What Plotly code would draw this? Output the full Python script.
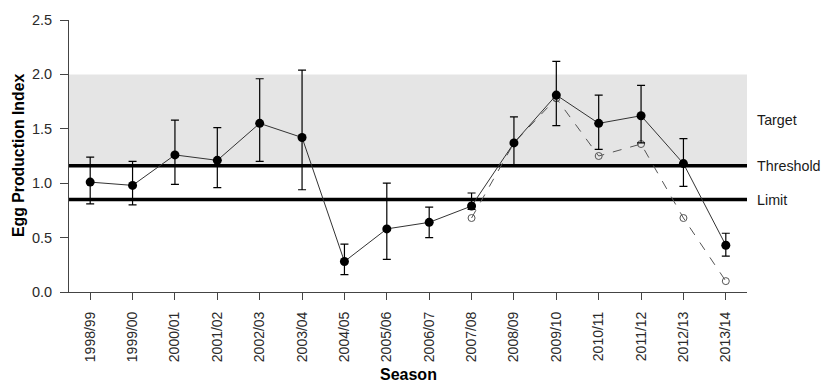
import plotly.graph_objects as go

seasons = ["1998/99", "1999/00", "2000/01", "2001/02", "2002/03", "2003/04",
           "2004/05", "2005/06", "2006/07", "2007/08", "2008/09", "2009/10",
           "2010/11", "2011/12", "2012/13", "2013/14"]
epi = [1.01, 0.98, 1.26, 1.21, 1.55, 1.42, 0.28, 0.58, 0.64, 0.79, 1.37, 1.81,
       1.55, 1.62, 1.18, 0.43]
epi_upper = [1.24, 1.20, 1.58, 1.51, 1.96, 2.04, 0.44, 1.00, 0.78, 0.91, 1.61, 2.12,
             1.81, 1.90, 1.41, 0.54]
epi_lower = [0.81, 0.80, 0.99, 0.96, 1.20, 0.94, 0.16, 0.30, 0.50, 0.76, 1.16, 1.53,
             1.31, 1.37, 0.97, 0.33]
alt_seasons = ["2007/08", "2008/09", "2009/10", "2010/11", "2011/12", "2012/13", "2013/14"]
alt_epi = [0.68, 1.37, 1.78, 1.25, 1.36, 0.68, 0.10]

target_top = 2.0
threshold = 1.16
limit = 0.85
ref_labels = ["Target", "Threshold", "Limit"]
ref_label_y = [(threshold + target_top) / 2, threshold, limit]

err_plus = [u - v for u, v in zip(epi_upper, epi)]
err_minus = [v - l for v, l in zip(epi, epi_lower)]

FONT = "Liberation Sans, Arial, sans-serif"

fig = go.Figure()

fig.add_shape(type="rect", xref="x domain", yref="y", x0=0, x1=1,
              y0=threshold, y1=target_top, fillcolor="#e5e5e5",
              line=dict(width=0), layer="below")
for yv in [threshold, limit]:
    fig.add_shape(type="line", xref="x domain", yref="y", x0=0, x1=1,
                  y0=yv, y1=yv, line=dict(color="black", width=3.5), layer="below")

fig.add_trace(go.Scatter(
    x=alt_seasons, y=alt_epi, mode="lines+markers",
    line=dict(color="#555555", width=1, dash="dash"),
    marker=dict(symbol="circle-open", size=7, color="#555555", line=dict(width=1)),
    showlegend=False, hoverinfo="skip"))

fig.add_trace(go.Scatter(
    x=seasons, y=epi, mode="lines+markers",
    line=dict(color="#333333", width=1),
    marker=dict(symbol="circle", size=9, color="black"),
    error_y=dict(type="data", symmetric=False, array=err_plus, arrayminus=err_minus,
                 color="black", thickness=1.2, width=4),
    showlegend=False, hoverinfo="skip"))

for txt, yv in zip(ref_labels, ref_label_y):
    fig.add_annotation(text=txt, xref="paper", yref="y", x=1, y=yv,
                       xanchor="left", yanchor="middle", xshift=8, showarrow=False,
                       font=dict(family=FONT, size=14.3, color="#1a1a1a"))

fig.add_annotation(text="<b>Egg Production Index</b>", xref="paper", yref="paper",
                   x=-0.0752, y=0.5, textangle=-90, showarrow=False,
                   xanchor="center", yanchor="middle",
                   font=dict(family=FONT, size=15.8, color="black"))
fig.add_annotation(text="<b>Season</b>", xref="paper", yref="paper",
                   x=0.5, y=-0.305, showarrow=False, xanchor="center", yanchor="middle",
                   font=dict(family=FONT, size=16, color="black"))

fig.update_layout(
    width=822, height=383,
    margin=dict(l=69, r=75, t=20, b=91),
    plot_bgcolor="white", paper_bgcolor="white",
    font=dict(family=FONT, size=14, color="#333333"),
)
fig.update_xaxes(
    type="category", range=[-0.5, 15.5], categoryorder="array", categoryarray=seasons,
    showline=True, linecolor="#444444", linewidth=1,
    ticks="outside", ticklen=7, tickcolor="#444444", tickangle=-90,
    ticklabelstandoff=6,
    showgrid=False, zeroline=False, tickfont=dict(family=FONT, size=14, color="#2a2a2a"))
fig.update_yaxes(
    range=[0, 2.5], tickvals=[0, 0.5, 1.0, 1.5, 2.0, 2.5],
    ticktext=["0.0", "0.5", "1.0", "1.5", "2.0", "2.5"],
    showline=True, linecolor="#444444", linewidth=1,
    ticks="outside", ticklen=8, tickcolor="#444444",
    ticklabelstandoff=5,
    showgrid=False, zeroline=False, tickfont=dict(family=FONT, size=14.5, color="#2a2a2a"))

fig.write_html("out.html")
